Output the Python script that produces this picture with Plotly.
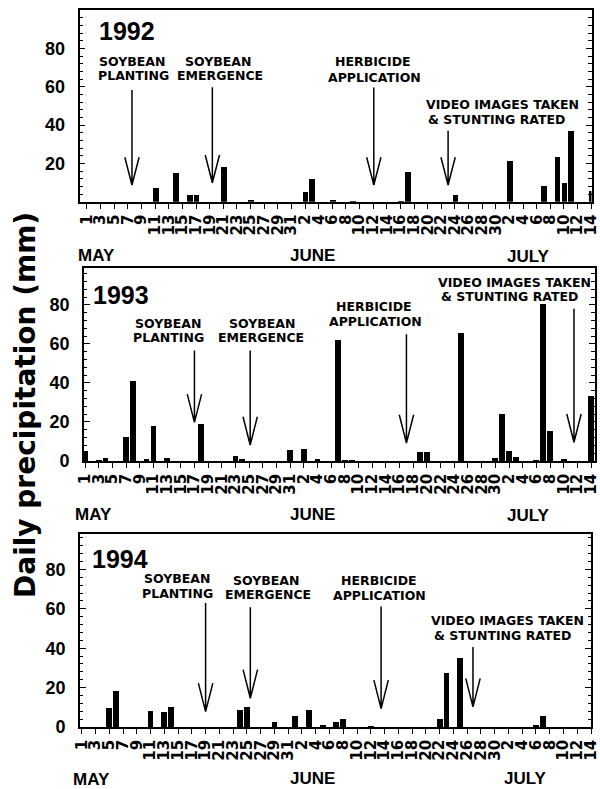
import plotly.graph_objects as go
from datetime import date

# ---------------- data ----------------
# daily precipitation (mm), dates as MM-DD
dates_1992 = ["05-11", "05-14", "05-16", "05-17", "05-21", "05-25", "06-02", "06-03", "06-06",
              "06-09", "06-16", "06-17", "06-24", "07-02", "07-07", "07-09", "07-10", "07-11", "07-14"]
rain_1992 = [7.5, 15.0, 3.8, 3.8, 18.3, 1.4, 5.2, 12.0, 1.2,
             0.8, 0.5, 15.6, 3.8, 21.7, 8.5, 23.5, 10.0, 37.4, 6.0]

dates_1993 = ["05-01", "05-03", "05-04", "05-07", "05-08", "05-10", "05-11", "05-13", "05-18",
              "05-23", "05-24", "05-31", "06-02", "06-04", "06-07", "06-08", "06-09", "06-19",
              "06-20", "06-25", "06-30", "07-01", "07-02", "07-03", "07-06", "07-07", "07-08",
              "07-10", "07-14"]
rain_1993 = [5.2, 0.3, 1.2, 12.0, 40.7, 1.0, 17.7, 1.4, 19.0,
             2.2, 0.9, 5.7, 6.2, 1.0, 62.0, 0.3, 0.3, 4.5,
             4.5, 65.5, 1.2, 24.0, 5.0, 2.0, 0.3, 80.5, 15.0,
             0.5, 33.0]

dates_1994 = ["05-05", "05-06", "05-11", "05-13", "05-14", "05-24", "05-25", "05-29", "06-01",
              "06-03", "06-05", "06-07", "06-08", "06-12", "06-22", "06-23", "06-25", "07-06", "07-07"]
rain_1994 = [9.7, 18.2, 8.3, 7.5, 10.2, 8.5, 10.4, 2.7, 5.8,
             8.8, 1.0, 2.5, 4.0, 0.3, 4.0, 27.5, 35.0, 1.0, 5.5]

# event dates (days after May 1) for the arrows
events_1992 = [6.6, 18.4, 42.1, 53.0]
events_1993 = [16.0, 24.15, 47.0, 71.5]
events_1994 = [18.0, 24.5, 43.5, 56.85]

event_labels = [["SOYBEAN", "PLANTING"], ["SOYBEAN", "EMERGENCE"],
                ["HERBICIDE", "APPLICATION"], ["VIDEO IMAGES TAKEN", "& STUNTING RATED"]]

tick_labels = ["1", "3", "5", "7", "9", "11", "13", "15", "17", "19", "21", "23", "25", "27", "29", "31",
               "2", "4", "6", "8", "10", "12", "14", "16", "18", "20", "22", "24", "26", "28", "30",
               "2", "4", "6", "8", "10", "12", "14"]
month_labels = ["MAY", "JUNE", "JULY"]
years = ["1992", "1993", "1994"]

# ---------------- helpers ----------------
W, H = 600, 789
START = date(2000, 5, 1)


def day_of(mmdd):
    m, d = (int(v) for v in mmdd.split("-"))
    return (date(2000, m, d) - START).days


def px(x):
    return x / W


def py(y):
    return 1 - y / H


tick_vals = [2 * i for i in range(len(tick_labels))]

# layout geometry per panel (pixels in the page)
panels = [
    dict(year=years[0], dates=dates_1992, rain=rain_1992, events=events_1992,
         x0=79.5, x1=591.5, ytop=9.5, ybot=201.7, xr=[-1.1, 74.05], yr=[0, 100.3],
         yt=[20, 40, 60, 80],
         arrow_top=[58.3, 59.7, 59.6, 37.0], arrow_tip=[8.7, 9.9, 8.7, 8.7],
         year_xy=(126.8, 31.0),
         lbl=[[(131.7, 61.5), (133.3, 75.0)], [(217.7, 61.5), (220.0, 75.0)],
              [(373.0, 62.0), (374.5, 77.0)], [(502.0, 104.5), (496.5, 119.5)]],
         months=[(96, 255), (312, 255), (528, 256)]),
    dict(year=years[1], dates=dates_1993, rain=rain_1993, events=events_1993,
         x0=84.0, x1=594.5, ytop=268.3, ybot=461.0, xr=[-0.15, 74.5], yr=[0, 98.8],
         yt=[0, 20, 40, 60, 80],
         arrow_top=[56.6, 56.6, 65.0, 78.0], arrow_tip=[19.8, 8.2, 9.2, 9.6],
         year_xy=(120.8, 295.0),
         lbl=[[(167.7, 323.0), (168.8, 338.0)], [(261.7, 323.0), (260.8, 338.0)],
              [(374.0, 306.0), (375.5, 321.0)], [(514.0, 282.5), (509.5, 296.7)]],
         months=[(93, 514), (313, 514), (528, 515)]),
    dict(year=years[2], dates=dates_1994, rain=rain_1994, events=events_1994,
         x0=80.0, x1=591.0, ytop=534.0, ybot=727.0, xr=[-0.25, 74.0], yr=[0, 98.0],
         yt=[0, 20, 40, 60, 80],
         arrow_top=[63.0, 60.8, 61.2, 40.6], arrow_tip=[7.8, 14.6, 9.3, 10.2],
         year_xy=(119.5, 558.7),
         lbl=[[(176.7, 578.0), (177.2, 593.0)], [(265.7, 580.0), (268.0, 594.0)],
              [(378.5, 580.0), (379.0, 595.0)], [(507.0, 620.0), (502.0, 635.0)]],
         months=[(91, 779), (312, 778), (525, 778)]),
]

SANS = "Liberation Sans, Arial, sans-serif"
WIDE = "DejaVu Sans, Verdana, sans-serif"

fig = go.Figure()
layout = dict(width=W, height=H, autosize=False, margin=dict(l=0, r=0, t=0, b=0, pad=0),
              paper_bgcolor="white", plot_bgcolor="white", showlegend=False,
              bargap=0)
annotations = []
shapes = []

for i, p in enumerate(panels):
    n = "" if i == 0 else str(i + 1)
    xa, ya = "x" + n, "y" + n
    fig.add_trace(go.Bar(x=[day_of(d) for d in p["dates"]], y=p["rain"],
                         width=0.85, marker=dict(color="black", line=dict(width=0)),
                         xaxis=xa, yaxis=ya, hoverinfo="skip"))
    layout["xaxis" + n] = dict(
        domain=[px(p["x0"]), px(p["x1"])], range=p["xr"], anchor=ya, automargin=False,
        tickmode="array", tickvals=tick_vals, ticktext=tick_labels, tickangle=-90,
        ticks="outside", ticklen=5, tickwidth=1.3, tickcolor="black",
        ticklabeloverflow="allow",
        tickfont=dict(family=WIDE, size=15, color="black", weight="bold"),
        showline=True, linecolor="black", linewidth=1.6, mirror=True,
        showgrid=False, zeroline=False, fixedrange=True)
    layout["yaxis" + n] = dict(
        domain=[py(p["ybot"]), py(p["ytop"])], range=p["yr"], anchor=xa, automargin=False,
        tickmode="array", tickvals=p["yt"], ticks="inside", ticklen=6, tickwidth=1.3,
        tickcolor="black",
        minor=dict(dtick=4, ticks="inside", ticklen=3.5, tickwidth=1, tickcolor="black"),
        tickfont=dict(family=SANS, size=18, color="black", weight="bold"),
        ticklabelstandoff=9,
        showline=True, linecolor="black", linewidth=1.6, mirror="ticks",
        showgrid=False, zeroline=False, fixedrange=True)

    # year label
    annotations.append(dict(text=p["year"], x=px(p["year_xy"][0]), y=py(p["year_xy"][1]),
                            xref="paper", yref="paper", showarrow=False,
                            xanchor="center", yanchor="middle",
                            font=dict(family=SANS, size=25, color="black", weight="bold")))
    # month labels
    for m, (mx, my) in zip(month_labels, p["months"]):
        annotations.append(dict(text=m, x=px(mx), y=py(my), xref="paper", yref="paper",
                                showarrow=False, xanchor="center", yanchor="middle",
                                font=dict(family=SANS, size=17, color="black", weight="bold")))
    # event labels
    for lines, pos in zip(event_labels, p["lbl"]):
        for t, (lx, ly) in zip(lines, pos):
            annotations.append(dict(text=t, x=px(lx), y=py(ly), xref="paper", yref="paper",
                                    showarrow=False, xanchor="center", yanchor="middle",
                                    font=dict(family=WIDE, size=12.5, color="black",
                                              weight="bold")))
    # arrows (open V heads)
    head_h = 14.5
    head_w = 1.05
    for ex, top, tip in zip(p["events"], p["arrow_top"], p["arrow_tip"]):
        path = (f"M {ex},{top} L {ex},{tip} "
                f"M {ex - head_w},{tip + head_h} L {ex},{tip} L {ex + head_w},{tip + head_h}")
        shapes.append(dict(type="path", path=path, xref=xa, yref=ya,
                           line=dict(color="black", width=1.5)))

# y-axis title
annotations.append(dict(text="Daily precipitation (mm)", x=px(26), y=py(405),
                        xref="paper", yref="paper", showarrow=False, textangle=-90,
                        xanchor="center", yanchor="middle",
                        font=dict(family=WIDE, size=28, color="black", weight="bold")))

layout["annotations"] = annotations
layout["shapes"] = shapes
fig.update_layout(**layout)
fig.write_html("out.html", config={"displayModeBar": False},
               post_script="document.body.style.margin='0px';document.body.style.overflow='hidden';")
